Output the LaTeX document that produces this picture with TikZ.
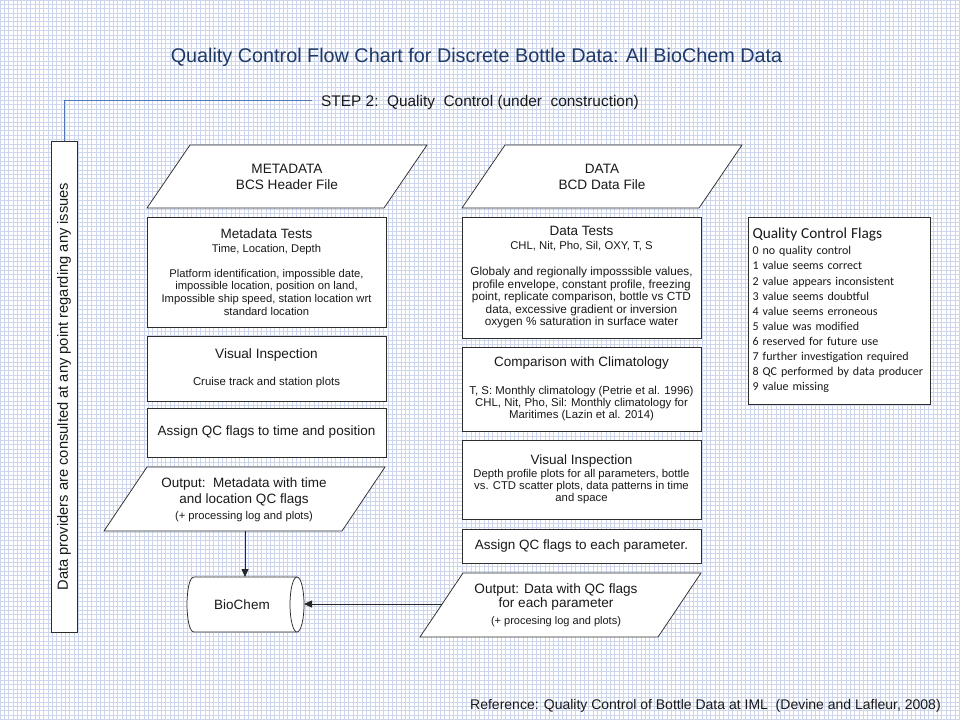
\documentclass[tikz,border=0pt]{standalone}
\usepackage{fontspec}
\setmainfont{Liberation Sans}
\newfontfamily\flagfont{Carlito}
\usetikzlibrary{arrows.meta}
\definecolor{gridc}{RGB}{206,214,237}
\definecolor{titlec}{RGB}{31,58,105}
\definecolor{stepc}{RGB}{79,120,185}
\definecolor{edgec}{RGB}{45,45,45}
\newcommand\fsz[2]{\fontsize{#1}{#2}\selectfont}
\begin{document}
\begin{tikzpicture}[x=1pt,y=-1pt,
  box/.style={draw=edgec, fill=white, line width=0.75pt, inner sep=0pt, align=center, text=black!90,
    preaction={draw=none, fill=black!40, transform canvas={xshift=1.1pt, yshift=-1.1pt}}},
  para/.style={draw=edgec, fill=white, line width=0.75pt},
  txt/.style={inner sep=0pt, align=center, text=black!90},
  conn/.style={draw=black!85, line width=0.8pt, -{Triangle[length=8pt,width=7pt]}},
  stepline/.style={draw=stepc, line width=0.8pt}
]
\useasboundingbox (0,0) rectangle (960,720);
\fill[white] (0,0) rectangle (960,720);
\draw[gridc, line width=0.7pt, step=4.36pt] (0,720) grid (960,0);

% title
\node[txt, text=titlec, font=\fsz{19.8}{22}] (title) at (476.5,57) {Quality Control Flow Chart for Discrete Bottle Data: All BioChem Data};

% step 2
\node[txt, anchor=west, font=\fsz{15.4}{18}] (step) at (321,103) {STEP 2:\ \ Quality\ \ Control (under\ \ construction)};
\coordinate (stepend) at (312,100);

% vertical box
\node[box, rotate=90, minimum width=491, minimum height=26, font=\fsz{14.7}{17}] (vbox) at (64,386.5) {Data providers are consulted at any point regarding any issues};
\draw[stepline] (vbox.east) |- (stepend);

% input parallelograms
\draw[para] (190,145) -- (427,145) -- (384,208) -- (147,208) -- cycle;
\node[txt, font=\fsz{13.6}{16}] (meta) at (287,176.5) {METADATA\\BCS Header File};
\draw[para] (505,145) -- (742,145) -- (699,208) -- (462,208) -- cycle;
\node[txt, font=\fsz{13.6}{16}] (data) at (602,176.5) {DATA\\BCD Data File};

% left column
\node[box, minimum width=239, minimum height=110, font=\fsz{11.2}{12.7}] (mtests) at (266.5,272)
 {{\fsz{13.5}{16}Metadata Tests}\\[1.5pt]Time, Location, Depth\\[12pt]Platform identification, impossible date,\\impossible location, position on land,\\Impossible ship speed, station location wrt\\standard location};
\node[box, minimum width=239, minimum height=65, font=\fsz{11.4}{16}] (mvis) at (266.5,368.5)
 {{\fsz{13.6}{16}Visual Inspection}\\[11pt]Cruise track and station plots};
\node[box, minimum width=239, minimum height=49, font=\fsz{13.5}{16}] (massign) at (266.5,432.5)
 {Assign QC flags to time and position};
\draw[para] (147,467) -- (385,467) -- (342,531) -- (104,531) -- cycle;
\node[txt, font=\fsz{13.5}{16}] (outmeta) at (244,499.5)
 {Output:\ \ Metadata with time\\and location QC flags\\{\fsz{11.2}{13}(+ processing log and plots)}};

% BioChem
\draw[para] (297,577) -- (194,577) .. controls (184.7,577) and (184.7,632) .. (194,632) -- (297,632);
\draw[para] (297,604.5) ellipse [x radius=7, y radius=27.5];
\node[txt, font=\fsz{13.5}{16}] (bio) at (242,605) {BioChem};

% right column
\node[box, minimum width=239, minimum height=121, font=\fsz{11.8}{12.5}] (dtests) at (581.5,277.5)
 {{\fsz{13.5}{16}Data Tests}\\[1pt]{\fsz{11.3}{12.5}CHL, Nit, Pho, Sil, OXY, T, S}\\[14pt]Globaly and regionally imposssible values,\\profile envelope, constant profile, freezing\\point, replicate comparison, bottle vs CTD\\data, excessive gradient or inversion\\oxygen \% saturation in surface water};
\node[box, minimum width=239, minimum height=84, font=\fsz{11.4}{12}] (dclim) at (581.5,389)
 {{\fsz{13.5}{16}Comparison with Climatology}\\[16.5pt]T, S: Monthly climatology (Petrie et al. 1996)\\CHL, Nit, Pho, Sil: Monthly climatology for\\Maritimes (Lazin et al. 2014)};
\node[box, minimum width=239, minimum height=79, font=\fsz{11.3}{12}] (dvis) at (581.5,479.5)
 {{\fsz{13.5}{16}Visual Inspection}\\[1pt]Depth profile plots for all parameters, bottle\\vs. CTD scatter plots, data patterns in time\\and space};
\node[box, minimum width=239, minimum height=34, font=\fsz{13.5}{16}] (dassign) at (581.5,546)
 {Assign QC flags to each parameter.};
\draw[para] (463,573) -- (701,573) -- (658,637) -- (420,637) -- cycle;
\node[txt, font=\fsz{13.6}{14.5}] (outdata) at (556,605)
 {Output: Data with QC flags\\for each parameter\\[2.5pt]{\fsz{11}{13}(+ procesing log and plots)}};

% flags
\node[box, minimum width=182, minimum height=187, text width=173, align=left, font={\flagfont\fsz{12}{15.1}\leftskip=4.5pt}] (flags) at (839,310.5)
 {{\fsz{15.3}{17}Quality Control Flags}\\[1pt]0 no quality control\\1 value seems correct\\2 value appears inconsistent\\3 value seems doubtful\\4 value seems erroneous\\5 value was modified\\6 reserved for future use\\7 further investigation required\\8 QC performed by data producer\\9 value missing};

% reference
\node[txt, anchor=west, font=\fsz{14}{16}] (ref) at (470,706) {Reference: Quality Control of Bottle Data at IML\ \ (Devine and Lafleur, 2008)};

% connectors
\coordinate (omout) at (245,531);
\coordinate (bioin) at (245,577);
\draw[conn] (omout) -- (bioin);
\coordinate (odout) at (442,604);
\coordinate (bioright) at (304,604);
\draw[conn] (odout) -- (bioright);
\end{tikzpicture}
\end{document}
